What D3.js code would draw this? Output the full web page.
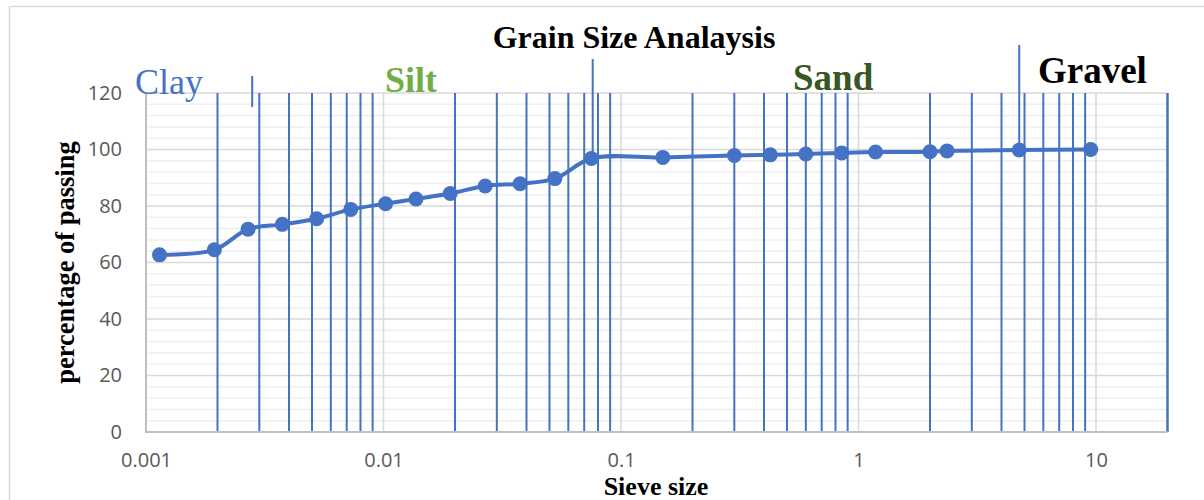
<!DOCTYPE html>
<html>
<head>
<meta charset="utf-8">
<script src="https://cdn.jsdelivr.net/npm/d3@7"></script>
<style>
  html, body { margin: 0; padding: 0; background: #ffffff; }
  svg { display: block; }
</style>
</head>
<body>
<div id="chart"></div>
<script>
// Sieve / hydrometer results (grain size in mm, percent finer)
const sieveSize = [0.00114, 0.00194, 0.00269, 0.00375, 0.00523, 0.00728, 0.0102, 0.0137,
  0.0191, 0.0268, 0.0376, 0.0527, 0.075, 0.15, 0.3, 0.425, 0.6, 0.85, 1.18, 2.0, 2.36, 4.75, 9.5];
const percentPassing = [62.7, 64.5, 71.8, 73.5, 75.5, 78.8, 80.8, 82.5,
  84.4, 87.1, 87.9, 89.7, 96.8, 97.2, 97.9, 98.1, 98.4, 98.8, 99.1, 99.2, 99.5, 99.8, 100];

// Soil class boundary markers (size, upper and lower end in percent)
const boundarySize = [0.0028, 0.076, 4.75];
const boundaryTop = [126, 132, 137];
const boundaryBottom = [115, 96.8, 100];

// Soil class names
const zoneNames = ["Clay", "Silt", "Sand", "Gravel"];

// Axis ticks
const xTicks = [0.001, 0.01, 0.1, 1, 10];
const xTickLabels = ["0.001", "0.01", "0.1", "1", "10"];
const yTicks = [0, 20, 40, 60, 80, 100, 120];

const chartTitle = "Grain Size Analaysis";
const xTitle = "Sieve size";
const yTitle = "percentage of passing";

const W = 1204, H = 500;
const plot = { left: 146, right: 1167.5, top: 93, bottom: 432 };
const blue = "#4472c4";

const svg = d3.select("#chart").append("svg")
  .attr("width", W).attr("height", H);

// chart frame
svg.append("rect")
  .attr("x", 9.5).attr("y", 6.5).attr("width", W + 10).attr("height", H + 10)
  .attr("fill", "none").attr("stroke", "#d9d9d9").attr("stroke-width", 1.5);

const x = d3.scaleLog().domain([0.001, 20]).range([plot.left, plot.right]);
const y = d3.scaleLinear().domain([0, 120]).range([plot.bottom, plot.top]);

const g = svg.append("g");

// minor horizontal gridlines every 4 %
const minorY = d3.range(0, 121, 4).filter(v => v % 20 !== 0);
g.selectAll(".hminor").data(minorY).enter().append("line")
  .attr("x1", plot.left).attr("x2", plot.right)
  .attr("y1", d => y(d)).attr("y2", d => y(d))
  .attr("stroke", "#efefef").attr("stroke-width", 1.5);

// major horizontal gridlines
g.selectAll(".hmajor").data(yTicks.filter(v => v > 0)).enter().append("line")
  .attr("x1", plot.left).attr("x2", plot.right)
  .attr("y1", d => y(d)).attr("y2", d => y(d))
  .attr("stroke", "#d9d9d9").attr("stroke-width", 1.5);

// major vertical gridlines at each decade
g.selectAll(".vmajor").data(xTicks.slice(1)).enter().append("line")
  .attr("x1", d => x(d)).attr("x2", d => x(d))
  .attr("y1", plot.top).attr("y2", plot.bottom)
  .attr("stroke", "#d9d9d9").attr("stroke-width", 1.5);

// minor vertical gridlines (2..9 within each decade), drawn in blue
const minorX = [];
[0.001, 0.01, 0.1, 1, 10].forEach(dec => {
  for (let k = 2; k <= 9; k++) {
    const v = dec * k;
    if (v <= 20) minorX.push(v);
  }
});
minorX.push(20);
g.selectAll(".vminor").data(minorX).enter().append("line")
  .attr("x1", d => x(d)).attr("x2", d => x(d))
  .attr("y1", plot.top).attr("y2", plot.bottom)
  .attr("stroke", blue).attr("stroke-width", 2);

// axis lines
g.append("line").attr("x1", plot.left).attr("x2", plot.left)
  .attr("y1", plot.top).attr("y2", plot.bottom + 1)
  .attr("stroke", "#bfbfbf").attr("stroke-width", 2);
g.append("line").attr("x1", plot.left).attr("x2", plot.right)
  .attr("y1", plot.bottom).attr("y2", plot.bottom)
  .attr("stroke", "#bfbfbf").attr("stroke-width", 2);

// axes labels via d3 axes
const xAxis = d3.axisBottom(x).tickValues(xTicks)
  .tickFormat((d, i) => xTickLabels[i]).tickSize(0).tickPadding(0);
const xg = svg.append("g").attr("transform", `translate(0,${plot.bottom})`).call(xAxis);
xg.select(".domain").remove();
xg.selectAll("text")
  .attr("y", 35).attr("dy", 0)
  .attr("font-family", "'Open Sans', sans-serif").attr("font-size", 20)
  .attr("fill", "#595959");

const yAxis = d3.axisLeft(y).tickValues(yTicks).tickSize(0).tickPadding(24);
const yg = svg.append("g").attr("transform", `translate(${plot.left},0)`).call(yAxis);
yg.select(".domain").remove();
yg.selectAll("text")
  .attr("font-family", "'Open Sans', sans-serif").attr("font-size", 20)
  .attr("fill", "#595959");

// class boundary markers
g.selectAll(".boundary").data(boundarySize).enter().append("line")
  .attr("x1", d => x(d)).attr("x2", d => x(d))
  .attr("y1", (d, i) => y(boundaryTop[i])).attr("y2", (d, i) => y(boundaryBottom[i]))
  .attr("stroke", blue).attr("stroke-width", 2);

// grading curve
const pts = sieveSize.map((s, i) => [x(s), y(percentPassing[i])]);
g.append("path")
  .attr("d", d3.line().curve(d3.curveCatmullRom.alpha(0.5))(pts))
  .attr("fill", "none").attr("stroke", blue).attr("stroke-width", 4)
  .attr("stroke-linejoin", "round");

g.selectAll(".pt").data(pts).enter().append("circle")
  .attr("cx", d => d[0]).attr("cy", d => d[1]).attr("r", 7.5)
  .attr("fill", blue);

// titles
const serif = "'Liberation Serif', 'Times New Roman', serif";
svg.append("text").text(chartTitle)
  .attr("x", 634).attr("y", 48).attr("text-anchor", "middle")
  .attr("font-family", serif).attr("font-weight", "bold").attr("font-size", 32)
  .attr("fill", "#000");

svg.append("text").text(xTitle)
  .attr("x", 656).attr("y", 495).attr("text-anchor", "middle")
  .attr("font-family", serif).attr("font-weight", "bold").attr("font-size", 26)
  .attr("fill", "#000");

svg.append("text").text(yTitle)
  .attr("transform", "translate(74,262.5) rotate(-90)")
  .attr("text-anchor", "middle")
  .attr("font-family", serif).attr("font-weight", "bold").attr("font-size", 26.5)
  .attr("fill", "#000");

// soil class labels
const zoneStyle = [
  { x: 135, y: 94, weight: "normal", size: 36, color: blue },
  { x: 385, y: 92, weight: "bold", size: 36, color: "#70ad47" },
  { x: 793, y: 90, weight: "bold", size: 37, color: "#385723" },
  { x: 1038, y: 83, weight: "bold", size: 37, color: "#000000" }
];
svg.selectAll(".zone").data(zoneNames).enter().append("text")
  .text(d => d)
  .attr("x", (d, i) => zoneStyle[i].x).attr("y", (d, i) => zoneStyle[i].y)
  .attr("font-family", serif)
  .attr("font-weight", (d, i) => zoneStyle[i].weight)
  .attr("font-size", (d, i) => zoneStyle[i].size)
  .attr("fill", (d, i) => zoneStyle[i].color);
</script>
</body>
</html>
